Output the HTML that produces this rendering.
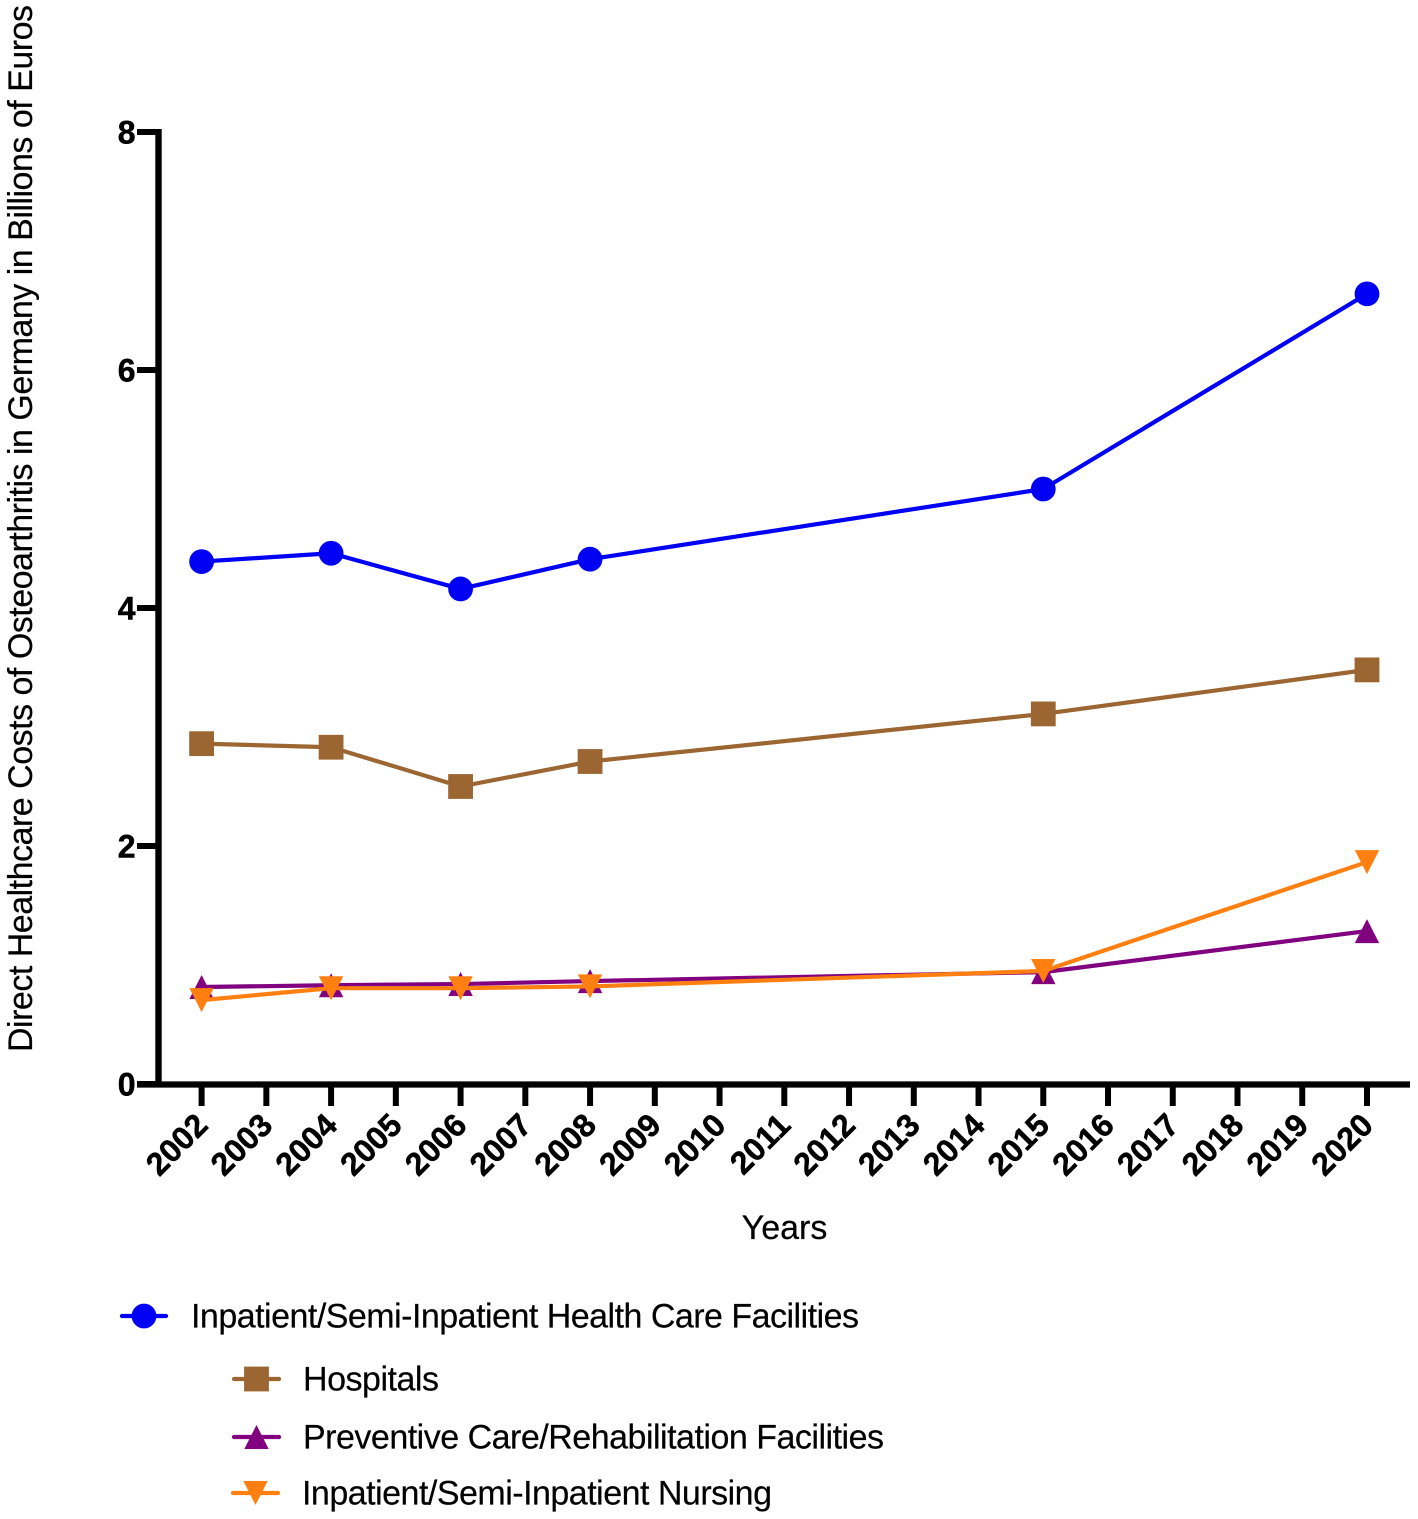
<!DOCTYPE html>
<html lang="en">
<head>
<meta charset="utf-8">
<title>Direct Healthcare Costs of Osteoarthritis in Germany</title>
<style>
html,body{margin:0;padding:0;background:#fff;}
svg{display:block;}
text{font-family:"Liberation Sans",Arial,sans-serif;fill:#000;}
.bold-label{stroke:#000;stroke-width:0.5px;}
.plain-label{stroke:#000;stroke-width:0.2px;}
</style>
</head>
<body>
<svg id="chart" xmlns="http://www.w3.org/2000/svg" width="1418" height="1519" viewBox="0 0 1418 1519"></svg>
<script>
const years = [2002,2003,2004,2005,2006,2007,2008,2009,2010,2011,2012,2013,2014,2015,2016,2017,2018,2019,2020];
const yTicks = [0,2,4,6,8];
const dataYears = [2002,2004,2006,2008,2015,2020];
const inpatientFacilities = [4.39,4.46,4.16,4.41,5.00,6.64];
const hospitals = [2.86,2.83,2.50,2.71,3.11,3.48];
const preventiveCare = [0.815,0.83,0.84,0.865,0.94,1.285];
const inpatientNursing = [0.705,0.805,0.805,0.82,0.95,1.865];
const seriesNames = [
  "Inpatient/Semi-Inpatient Health Care Facilities",
  "Hospitals",
  "Preventive Care/Rehabilitation Facilities",
  "Inpatient/Semi-Inpatient Nursing"
];

const NS = "http://www.w3.org/2000/svg";
const svg = document.getElementById("chart");
const xScale = v => 201.6 + (v - 2002) * (1367 - 201.6) / 18;
const yScale = v => 1084 - v * (1084 - 132) / 8;

function make(tag, attrs, parent) {
  const el = document.createElementNS(NS, tag);
  for (const k in attrs) el.setAttribute(k, attrs[k]);
  (parent || svg).appendChild(el);
  return el;
}

function drawMarker(parent, kind, cx, cy, color) {
  let m;
  if (kind === "circle") {
    m = make("circle", {cx: cx, cy: cy, r: 12.4, fill: color}, parent);
  } else if (kind === "square") {
    m = make("rect", {x: cx - 12.4, y: cy - 12.4, width: 24.8, height: 24.8, fill: color}, parent);
  } else if (kind === "up") {
    m = make("polygon", {points: (cx) + "," + (cy - 12) + " " + (cx + 12.2) + "," + (cy + 12) + " " + (cx - 12.2) + "," + (cy + 12), fill: color}, parent);
  } else {
    m = make("polygon", {points: (cx) + "," + (cy + 12) + " " + (cx + 12.2) + "," + (cy - 12) + " " + (cx - 12.2) + "," + (cy - 12), fill: color}, parent);
  }
  return m;
}

/* axes */
const axes = make("g", {});



const yAxisLine = make("line", {x1: 158.5, y1: 129, x2: 158.5, y2: 1087, stroke: "#000", "stroke-width": 6.4}, axes);



const xAxisLine = make("line", {x1: 137, y1: 1084.5, x2: 1410, y2: 1084.5, stroke: "#000", "stroke-width": 6.2}, axes);



yTicks.forEach(function (t) {
  const tick = make("line", {x1: 137, y1: yScale(t), x2: 158, y2: yScale(t), stroke: "#000", "stroke-width": 6}, axes);
  
  
  const label = make("text", {x: 135.5, y: yScale(t) + 11.5, "text-anchor": "end", "font-size": 32, "font-weight": "bold", "class": "bold-label"}, axes);
  
  
  label.textContent = t;
});

years.forEach(function (yr) {
  const x = xScale(yr);
  const tick = make("line", {x1: x, y1: 1084, x2: x, y2: 1106, stroke: "#000", "stroke-width": 6}, axes);
  
  
  const lx = x + 8, ly = 1127;
  const label = make("text", {x: lx, y: ly, "text-anchor": "end", "font-size": 32, "font-weight": "bold", "class": "bold-label", transform: "rotate(-45 " + lx + " " + ly + ")"}, axes);
  
  
  label.textContent = yr;
});

const yTitle = make("text", {x: 0, y: 0, "font-size": 34, "text-anchor": "start", "class": "plain-label", textLength: 1047, lengthAdjust: "spacing", transform: "translate(32 1052) rotate(-90)"});


yTitle.textContent = "Direct Healthcare Costs of Osteoarthritis in Germany in Billions of Euros";

const xTitle = make("text", {x: 784.5, y: 1239, "font-size": 34, "text-anchor": "middle", "class": "plain-label"});


xTitle.textContent = "Years";

/* series */
function drawSeries(name, values, color, kind) {
  const g = make("g", {});
  
  
  const pts = values.map(function (v, i) { return xScale(dataYears[i]) + "," + yScale(v); }).join(" ");
  const line = make("polyline", {points: pts, fill: "none", stroke: color, "stroke-width": 4.2, "stroke-linejoin": "round"}, g);
  
  
  values.forEach(function (v, i) {
    const mark = drawMarker(g, kind, xScale(dataYears[i]), yScale(v), color);
    
    
  });
}
const BLUE = "#0000f5", BROWN = "#9c6633", PURPLE = "#800080", ORANGE = "#ff7f11";
drawSeries("inpatient-facilities-series", inpatientFacilities, BLUE, "circle");
drawSeries("hospitals-series", hospitals, BROWN, "square");
drawSeries("preventive-care-series", preventiveCare, PURPLE, "up");
drawSeries("inpatient-nursing-series", inpatientNursing, ORANGE, "down");

/* legend */
const legend = make("g", {});


function drawLegend(idx, x0, x1, y, color, kind, tx, tlen) {
  const g = make("g", {}, legend);
  
  
  make("line", {x1: x0, y1: y, x2: x1, y2: y, stroke: color, "stroke-width": 4.2, "stroke-linecap": "round"}, g);
  drawMarker(g, kind, (x0 + x1) / 2, y, color);
  const t = make("text", {x: tx, y: y + 11.5, "font-size": 34, "class": "plain-label", textLength: tlen, lengthAdjust: "spacing"}, g);
  t.textContent = seriesNames[idx];
}
drawLegend(0, 122, 166, 1316, BLUE, "circle", 191, 668);
drawLegend(1, 234, 279, 1379, BROWN, "square", 303, 136);
drawLegend(2, 234, 279, 1437, PURPLE, "up", 303, 581);
drawLegend(3, 233, 278, 1493, ORANGE, "down", 302, 470);
</script>
</body>
</html>
